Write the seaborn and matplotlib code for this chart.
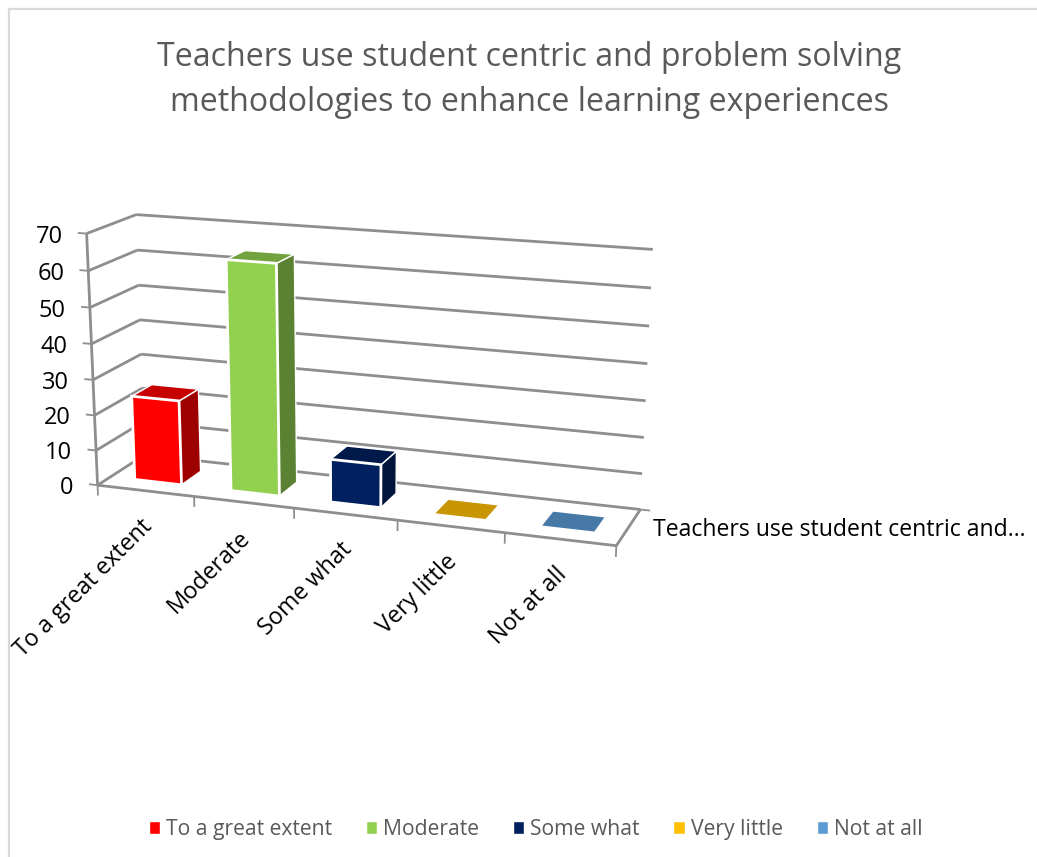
# Teachers survey chart, drawn as an Excel style 3D column

import matplotlib
matplotlib.use("Agg")
import matplotlib.pyplot as plt
import numpy as np
import pandas as pd
import seaborn as sns
from matplotlib.colors import to_rgb
from matplotlib.transforms import IdentityTransform, Transform

categories = ["To a great extent", "Moderate", "Some what", "Very little", "Not at all"]
values = [24, 64, 12, 0, 0]
colors = ["#FF0000", "#92D050", "#002060", "#FFC000", "#5B9BD5"]
y_ticks = [0, 10, 20, 30, 40, 50, 60, 70]
title = "Teachers use student centric and problem solving\nmethodologies to enhance learning experiences"
series_name = "Teachers use student centric and…"

W, H = 1037, 857
GRID = "#8E8E8E"

# box corners (x, value, depth) and where they land in the image
x0, x1 = -0.5, 4.5
corners = [
    (x0, 0, 0, 97, 483), (x0, 70, 0, 86, 233),
    (x1, 0, 0, 617, 545), (x1, 70, 0, 629, 276),
    (x0, 0, 1, 145, 457), (x0, 70, 1, 137, 215),
    (x1, 0, 1, 640, 510), (x1, 70, 1, 652, 246),
]
rows = []
for x, y, z, u, v in corners:
    p = [x, y, z, 1]
    rows.append(p + [0, 0, 0, 0] + [-u * c for c in p])
    rows.append([0, 0, 0, 0] + p + [-v * c for c in p])
P = np.linalg.svd(np.array(rows, dtype=float))[2][-1].reshape(3, 4)


def project(x, y, z):
    pts = np.column_stack([x, y, z, np.ones_like(np.asarray(x, dtype=float))])
    out = pts @ P.T
    return np.column_stack([out[:, 0] / out[:, 2], H - out[:, 1] / out[:, 2]])


class Box3D(Transform):
    # data plane at a fixed depth -> image pixels
    input_dims = 2
    output_dims = 2

    def __init__(self, plane):
        super().__init__()
        self.plane = plane

    def transform_non_affine(self, xy):
        xy = np.asarray(xy, dtype=float)
        return project(xy[:, 0], xy[:, 1], np.full(len(xy), self.plane))


def line3d(ax, x, y, z, **kw):
    xy = project(np.array(x, dtype=float), np.array(y, dtype=float), np.array(z, dtype=float))
    ax.plot(xy[:, 0], xy[:, 1], transform=IdentityTransform(), solid_capstyle="butt", **kw)


def face(ax, x, y, z, color, zorder):
    xy = project(np.array(x, dtype=float), np.array(y, dtype=float), np.array(z, dtype=float))
    ax.fill(xy[:, 0], xy[:, 1], transform=IdentityTransform(), facecolor=color,
            edgecolor="white", linewidth=1.0, zorder=zorder)


def shade(color, k):
    return tuple(c * k for c in to_rgb(color))


sns.set_theme(style="white")
plt.rcParams["font.family"] = ["Open Sans", "DejaVu Sans"]

df = pd.DataFrame({"category": categories, "value": values})

fig = plt.figure(figsize=(W / 100, H / 100), dpi=100)
ax = fig.add_axes([0, 0, 1, 1])
sns.barplot(data=df, x="category", y="value", hue="category", hue_order=categories,
            palette=colors, saturation=1, width=0.49, legend="full", ax=ax)

z_front, z_back = 0.27, 0.70

# walls and floor
line_kw = dict(color=GRID, linewidth=2.0, zorder=1)
tick_kw = dict(color=GRID, linewidth=1.3, zorder=1)
for v in y_ticks:
    line3d(ax, [x0, x0], [v, v], [0, 1], **line_kw)
    line3d(ax, [x0, x1], [v, v], [1, 1], **line_kw)
    line3d(ax, [x0 - 0.09, x0], [v, v], [0, 0], **tick_kw)
line3d(ax, [x0, x0], [0, 70], [0, 0], **line_kw)
line3d(ax, [x0, x1], [0, 0], [0, 0], **line_kw)
line3d(ax, [x1, x1], [0, 0], [0, 1], **line_kw)
line3d(ax, [x1, x1 + 0.09], [0, 0], [1, 1], **tick_kw)
for x in np.arange(x0, x1 + 0.5):
    line3d(ax, [x, x], [0, -3], [0, 0], **tick_kw)

# columns: the seaborn bars are the front faces, side and top hang off them
for i, patch in enumerate(ax.patches[:len(categories)]):
    left, right = patch.get_x(), patch.get_x() + patch.get_width()
    top = patch.get_height()
    c = colors[i]
    if top > 0:
        face(ax, [right, right, right, right], [0, top, top, 0],
             [z_front, z_front, z_back, z_back], shade(c, 0.62), 3)
    face(ax, [left, right, right, left], [top, top, top, top],
         [z_front, z_front, z_back, z_back], shade(c, 0.78), 3)
    patch.set_transform(Box3D(z_front))
    patch.set_zorder(4)
    patch.set_edgecolor("white")
    patch.set_linewidth(2.0 if top > 0 else 0)

# tick labels
for v in y_ticks:
    px, py = project(np.array([x0]), np.array([float(v)]), np.array([0.0]))[0]
    ax.text(px - 24, py - 3, str(v), transform=IdentityTransform(), ha="right", va="center",
            fontsize=17, color="black")
for i, name in enumerate(categories):
    px, py = project(np.array([float(i)]), np.array([0.0]), np.array([0.0]))[0]
    ax.text(px + 3, py - 32, name, transform=IdentityTransform(), ha="right", va="center",
            rotation=45, rotation_mode="anchor", fontsize=16.8, color="black")
ax.text(653, H - 530, series_name, transform=IdentityTransform(), ha="left", va="center",
        fontsize=16.6, color="black")

fig.text(529 / W, 1 - 80 / H, title, ha="center", va="center", fontsize=23.1,
         color="#595959", linespacing=1.5)

# chart frame, only its top and left sides are inside the picture
fig.add_artist(plt.Line2D([9, 9], [0, H - 9], transform=IdentityTransform(), color="#D9D9D9", lw=1.6))
fig.add_artist(plt.Line2D([9, W], [H - 9, H - 9], transform=IdentityTransform(), color="#D9D9D9", lw=1.6))

sns.move_legend(ax, "lower center", bbox_to_anchor=(0.5164, -0.002), ncol=5, title=None, frameon=False,
                fontsize=15.2, labelcolor="#595959", handlelength=0.55, handleheight=0.55,
                handletextpad=0.27, columnspacing=1.6)

ax.set_xlim(-0.5, 4.5)
ax.set_ylim(0, 70)
ax.axis("off")
fig.savefig("out.png", dpi=100, facecolor="white")
